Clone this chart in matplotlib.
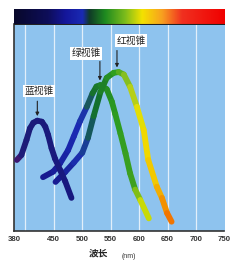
import numpy as np
import matplotlib.pyplot as plt
from matplotlib.collections import LineCollection
from matplotlib.colors import to_rgb

plt.rcParams['font.family'] = ['Noto Sans CJK SC', 'DejaVu Sans']

# values (wavelength nm, relative absorbance 0..1)
s_nm = [385, 393, 402, 408, 414, 421, 429, 435, 440, 446, 452, 461, 470, 481]
s_val = [0.343, 0.367, 0.44, 0.496, 0.523, 0.533, 0.528, 0.504, 0.464, 0.4, 0.35, 0.295, 0.24, 0.16]

m_nm = [431, 449, 461, 475, 485, 496, 508, 518, 525, 532, 543, 552, 558, 567, 576, 584, 593, 602, 617]
m_val = [0.26, 0.287, 0.327, 0.39, 0.456, 0.53, 0.60, 0.665, 0.698, 0.705, 0.685, 0.625, 0.565, 0.472, 0.375, 0.279, 0.2, 0.15, 0.061]

l_nm = [453, 470, 485, 500, 510, 520, 532, 543, 555, 564, 573, 584, 596, 608, 616, 631, 640, 649, 657]
l_val = [0.237, 0.285, 0.33, 0.378, 0.45, 0.555, 0.672, 0.74, 0.764, 0.768, 0.756, 0.697, 0.60, 0.488, 0.343, 0.214, 0.16, 0.087, 0.045]

labels = ['蓝视锥', '绿视锥', '红视锥']
xticks = [380, 450, 500, 550, 600, 650, 700, 750]
grid_x = [400, 450, 500, 550, 600, 650, 700]

# colours
s_cols = [(385, '#4a1670'), (398, '#1c1c78'), (481, '#181880')]
m_cols = [(431, '#16168a'), (500, '#1c2cb8'), (520, '#16702e'), (560, '#2c9c20'),
          (590, '#40a020'), (602, '#a8d010'), (617, '#e8e400')]
l_cols = [(453, '#16168a'), (500, '#1c30b4'), (522, '#106a30'), (560, '#30a020'),
          (584, '#a0c820'), (605, '#eee200'), (630, '#f4c000'), (657, '#f06800')]
spec_cols = [(380, '#08082a'), (440, '#0e0e5a'), (470, '#14169a'), (500, '#1a2ab4'),
             (512, '#103a28'), (540, '#1e8a20'), (575, '#7cbc1c'), (605, '#f4e200'),
             (640, '#f8a020'), (675, '#f03020'), (750, '#f00000')]

W, H = 243, 265


def rect(x0, y0, x1, y1):
    return [x0 / W, 1 - y1 / H, (x1 - x0) / W, (y1 - y0) / H]


def interp_col(stops, x):
    xs = [s[0] for s in stops]
    cs = np.array([to_rgb(s[1]) for s in stops])
    return np.stack([np.interp(x, xs, cs[:, i]) for i in range(3)], axis=-1)


fig = plt.figure(figsize=(2.43, 2.65), dpi=100)

ax = fig.add_axes(rect(14, 24, 224.5, 231))
ax.set_xlim(380, 750)
ax.set_ylim(0, 1)
ax.set_facecolor('#8ec3ee')
for g in grid_x:
    ax.axvline(g, color='white', lw=0.9, alpha=0.75, zorder=0)

for z, (nm, val, cols) in enumerate([(m_nm, m_val, m_cols), (l_nm, l_val, l_cols), (s_nm, s_val, s_cols)]):
    pts = np.column_stack([nm, val])
    segs = np.stack([pts[:-1], pts[1:]], axis=1)
    mids = (pts[:-1, 0] + pts[1:, 0]) / 2
    lc = LineCollection(segs, colors=interp_col(cols, mids), linewidths=4.2,
                        capstyle='round', joinstyle='round', zorder=3 + z)
    ax.add_collection(lc)

# labels with arrows pointing to the peaks
# (label x offset nm, arrow x offset nm, arrow length, label gap)
offs = [(3, 0, 0.072, 0.048), (-24, -1, 0.092, 0.039), (25, -3, 0.082, 0.048)]
for lab, nm, val, (tx, axo, alen, gap) in zip(labels, [s_nm, m_nm, l_nm], [s_val, m_val, l_val], offs):
    i = int(np.argmax(val))
    px, py = nm[i] + axo, val[i] + 0.022
    ax.annotate('', xy=(px, py), xytext=(px, py + alen),
                arrowprops=dict(arrowstyle='-|>', color='#222222', lw=0.8,
                                mutation_scale=5, shrinkA=0, shrinkB=0), zorder=8)
    ax.text(px + tx, py + alen + gap, lab, fontsize=7, ha='center', va='center',
            color='#222222', zorder=9,
            bbox=dict(boxstyle='square,pad=0.12', fc='white', ec='none'))

ax.set_yticks([])
ax.set_xticks(xticks)
ax.set_xticklabels([str(t) for t in xticks], fontsize=5.6, color='#333333',
                   family='Liberation Sans', fontweight='bold')
ax.tick_params(axis='x', length=0, pad=3.5)
for side in ['top', 'right']:
    ax.spines[side].set_visible(False)
ax.spines['left'].set_color('#333333')
ax.spines['bottom'].set_color('#333333')
ax.spines['left'].set_linewidth(1.2)
ax.spines['bottom'].set_linewidth(1.2)

# spectrum bar on top
axs = fig.add_axes(rect(14, 9, 224.5, 24.5))
xx = np.linspace(380, 750, 400)
img = interp_col(spec_cols, xx)[None, :, :]
axs.imshow(img, extent=[380, 750, 0, 1], aspect='auto')
axs.set_xlim(380, 750)
axs.axis('off')
axs.axhline(0, color='#222222', lw=1.5)

fig.text(98 / W, 1 - 254 / H, '波长', fontsize=7, fontweight='bold', ha='center', va='center',
         color='#222222')
fig.text(129 / W, 1 - 256 / H, '(nm)', fontsize=5, ha='center', va='center', color='#333333',
         family='Liberation Sans')

fig.savefig('out.png', dpi=100)
